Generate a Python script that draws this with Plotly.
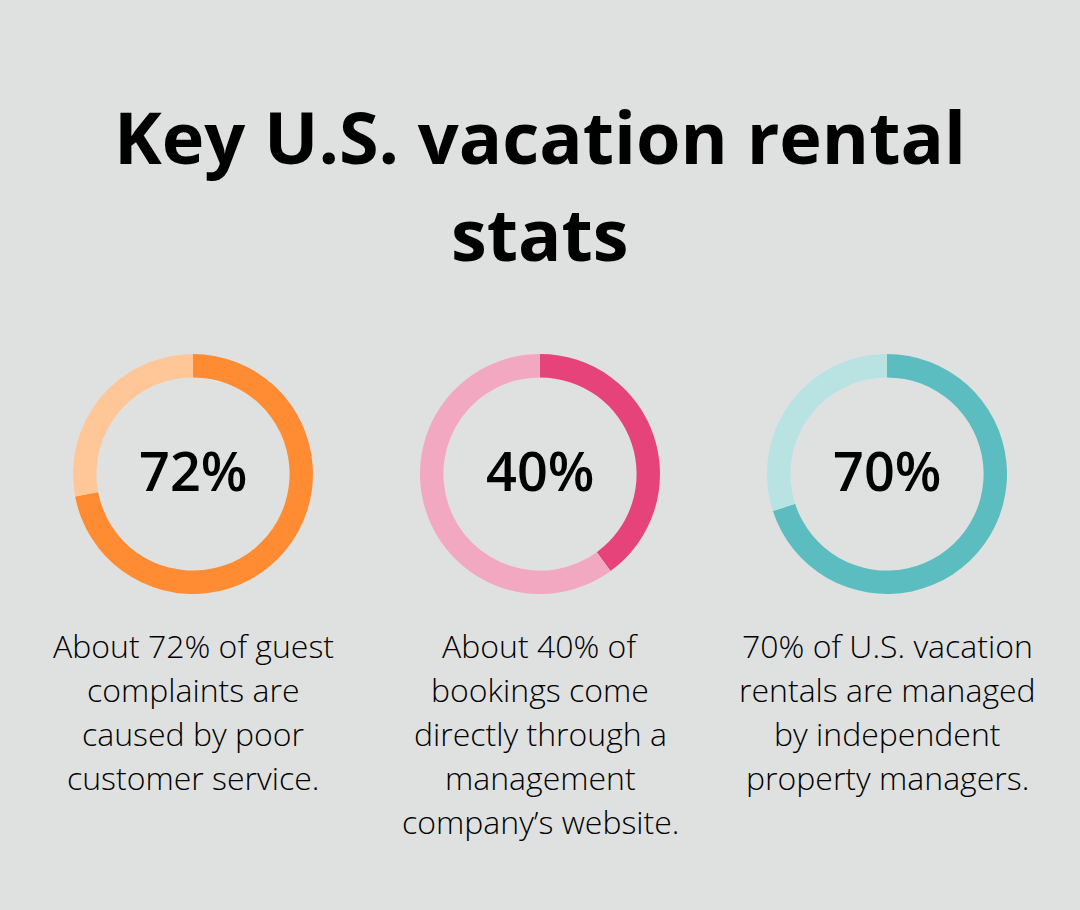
import plotly.graph_objects as go

title_lines = ["Key U.S. vacation rental", "stats"]
percent_values = [72, 40, 70]
percent_labels = ["72%", "40%", "70%"]
captions = [
    ["About 72% of guest", "complaints are", "caused by poor", "customer service."],
    ["About 40% of", "bookings come", "directly through a", "management", "company\u2019s website."],
    ["70% of U.S. vacation", "rentals are managed", "by independent", "property managers."],
]
dark_colors = ["#FF8C33", "#E5437A", "#5BBDC0"]
light_colors = ["#FFC697", "#F2A8C1", "#B9E2E3"]

W, H = 1080, 910
centers_x = [193, 540, 887]
center_y = 474
R = 120

fig = go.Figure()
for i, v in enumerate(percent_values):
    cx = centers_x[i]
    fig.add_trace(go.Pie(
        values=[v, 100 - v],
        labels=["value", "rest"],
        marker=dict(colors=[dark_colors[i], light_colors[i]], line=dict(width=0)),
        hole=0.805,
        sort=False,
        direction="clockwise",
        rotation=0,
        textinfo="none",
        hoverinfo="skip",
        showlegend=False,
        domain=dict(x=[(cx - R) / W, (cx + R) / W],
                    y=[1 - (center_y + R) / H, 1 - (center_y - R) / H]),
    ))
    fig.add_annotation(x=cx / W, y=1 - 470 / H, xref="paper", yref="paper",
                       text=percent_labels[i], showarrow=False,
                       font=dict(family="Open Sans", size=54, color="#000000", weight=600),
                       xanchor="center", yanchor="middle")
    for j, line in enumerate(captions[i]):
        fig.add_annotation(x=cx / W, y=1 - (645 + 44 * j) / H, xref="paper", yref="paper",
                           text=line, showarrow=False,
                           font=dict(family="Open Sans", size=32, color="#000000", weight=300),
                           xanchor="center", yanchor="middle")

for j, line in enumerate(title_lines):
    fig.add_annotation(x=0.5, y=1 - (136 + 97 * j) / H, xref="paper", yref="paper",
                       text=line, showarrow=False,
                       font=dict(family="Open Sans", size=72, color="#000000", weight=700),
                       xanchor="center", yanchor="middle")

fig.update_layout(
    width=W, height=H,
    margin=dict(l=0, r=0, t=0, b=0),
    paper_bgcolor="#DFE1E0",
    plot_bgcolor="#DFE1E0",
)
fig.write_html("out.html",
               config={"displayModeBar": False},
               post_script="document.body.style.margin='0';document.body.style.overflow='hidden';")
